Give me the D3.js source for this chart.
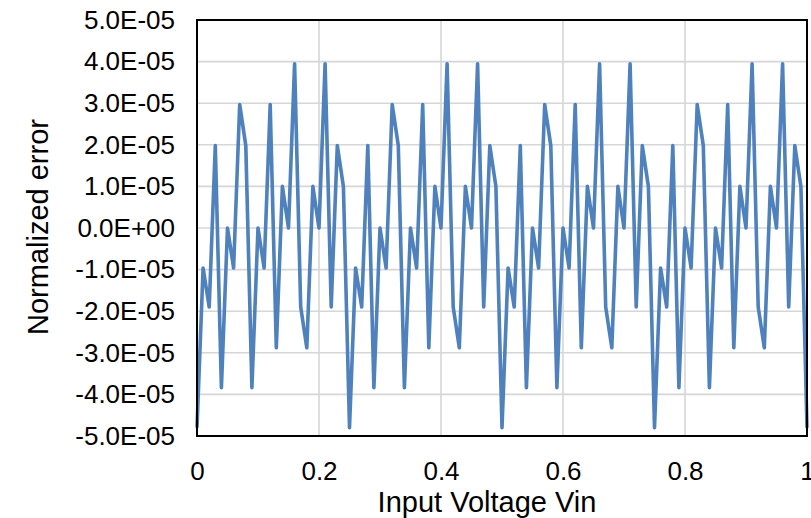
<!DOCTYPE html>
<html>
<head>
<meta charset="utf-8">
<script src="https://cdn.jsdelivr.net/npm/d3@7"></script>
<style>
  body { margin: 0; background: #fff; }
  text { font-family: "Liberation Sans", Arial, sans-serif; fill: #000; }
</style>
</head>
<body>
<svg id="chart" width="811" height="518"></svg>
<script>
const vin = [
  0.00, 0.01, 0.02, 0.03, 0.04, 0.05, 0.06, 0.07, 0.08, 0.09,
  0.10, 0.11, 0.12, 0.13, 0.14, 0.15, 0.16, 0.17, 0.18, 0.19,
  0.20, 0.21, 0.22, 0.23, 0.24, 0.25, 0.26, 0.27, 0.28, 0.29,
  0.30, 0.31, 0.32, 0.33, 0.34, 0.35, 0.36, 0.37, 0.38, 0.39,
  0.40, 0.41, 0.42, 0.43, 0.44, 0.45, 0.46, 0.47, 0.48, 0.49,
  0.50, 0.51, 0.52, 0.53, 0.54, 0.55, 0.56, 0.57, 0.58, 0.59,
  0.60, 0.61, 0.62, 0.63, 0.64, 0.65, 0.66, 0.67, 0.68, 0.69,
  0.70, 0.71, 0.72, 0.73, 0.74, 0.75, 0.76, 0.77, 0.78, 0.79,
  0.80, 0.81, 0.82, 0.83, 0.84, 0.85, 0.86, 0.87, 0.88, 0.89,
  0.90, 0.91, 0.92, 0.93, 0.94, 0.95, 0.96, 0.97, 0.98, 0.99,
  1.00
]

const normError = [
  -4.8e-5, -0.96e-5, -1.9e-5, 1.98e-5, -3.84e-5, 0, -0.96e-5, 2.97e-5, 1.98e-5, -3.84e-5,
  0, -0.96e-5, 2.97e-5, -2.88e-5, 1.0e-5, 0, 3.95e-5, -1.9e-5, -2.88e-5, 1.0e-5,
  0, 3.95e-5, -1.9e-5, 1.98e-5, 1.0e-5,
  -4.8e-5, -0.96e-5, -1.9e-5, 1.98e-5, -3.84e-5, 0, -0.96e-5, 2.97e-5, 1.98e-5, -3.84e-5,
  0, -0.96e-5, 2.97e-5, -2.88e-5, 1.0e-5, 0, 3.95e-5, -1.9e-5, -2.88e-5, 1.0e-5,
  0, 3.95e-5, -1.9e-5, 1.98e-5, 1.0e-5,
  -4.8e-5, -0.96e-5, -1.9e-5, 1.98e-5, -3.84e-5, 0, -0.96e-5, 2.97e-5, 1.98e-5, -3.84e-5,
  0, -0.96e-5, 2.97e-5, -2.88e-5, 1.0e-5, 0, 3.95e-5, -1.9e-5, -2.88e-5, 1.0e-5,
  0, 3.95e-5, -1.9e-5, 1.98e-5, 1.0e-5,
  -4.8e-5, -0.96e-5, -1.9e-5, 1.98e-5, -3.84e-5, 0, -0.96e-5, 2.97e-5, 1.98e-5, -3.84e-5,
  0, -0.96e-5, 2.97e-5, -2.88e-5, 1.0e-5, 0, 3.95e-5, -1.9e-5, -2.88e-5, 1.0e-5,
  0, 3.95e-5, -1.9e-5, 1.98e-5, 1.0e-5,
  -4.8e-5
]

const xTicks = [0, 0.2, 0.4, 0.6, 0.8, 1]
const xTickLabels = ["0", "0.2", "0.4", "0.6", "0.8", "1"]
const yTicks = [-5e-5, -4e-5, -3e-5, -2e-5, -1e-5, 0, 1e-5, 2e-5, 3e-5, 4e-5, 5e-5]
const yTickLabels = ["-5.0E-05", "-4.0E-05", "-3.0E-05", "-2.0E-05", "-1.0E-05", "0.0E+00",
                     "1.0E-05", "2.0E-05", "3.0E-05", "4.0E-05", "5.0E-05"]

const svg = d3.select("#chart")
const plot = { left: 197, right: 807, top: 20, bottom: 436 }

const xScale = d3.scaleLinear()
    .domain([0, 1])
    .range([plot.left, plot.right])

const yScale = d3.scaleLinear()
    .domain([-5e-5, 5e-5])
    .range([plot.bottom, plot.top])

function drawGrid() {
    svg.append("g")
      .selectAll("line")
      .data(yTicks)
      .join("line")
      .attr("x1", plot.left)
      .attr("x2", plot.right)
      .attr("y1", d => yScale(d))
      .attr("y2", d => yScale(d))
      .attr("stroke", "#d6d6d6")
      .attr("stroke-width", 1.6)

    svg.append("g")
      .selectAll("line")
      .data(xTicks)
      .join("line")
      .attr("x1", d => xScale(d))
      .attr("x2", d => xScale(d))
      .attr("y1", plot.top)
      .attr("y2", plot.bottom)
      .attr("stroke", "#d6d6d6")
      .attr("stroke-width", 1.6)
}

function drawAxes() {
    const xAxis = d3.axisBottom(xScale)
        .tickValues(xTicks)
        .tickFormat((d, i) => xTickLabels[i])
        .tickSize(0)
        .tickPadding(0)

    const xg = svg.append("g")
      .attr("transform", `translate(0,${plot.bottom})`)
      .call(xAxis)
    xg.select(".domain").remove()
    xg.selectAll("text")
      .attr("y", 44)
      .attr("dy", null)
      .attr("font-size", "26px")
      .attr("font-family", "Liberation Sans, Arial, sans-serif")
      .attr("fill", "#000")

    const yAxis = d3.axisLeft(yScale)
        .tickValues(yTicks)
        .tickFormat((d, i) => yTickLabels[i])
        .tickSize(0)
        .tickPadding(22)

    const yg = svg.append("g")
      .attr("transform", `translate(${plot.left},0)`)
      .call(yAxis)
    yg.select(".domain").remove()
    yg.selectAll("text")
      .attr("font-size", "26px")
      .attr("font-family", "Liberation Sans, Arial, sans-serif")
      .attr("fill", "#000")

    svg.append("text")
      .attr("x", 487)
      .attr("y", 512)
      .attr("text-anchor", "middle")
      .attr("font-size", "29px")
      .text("Input Voltage Vin")

    svg.append("text")
      .attr("transform", "translate(48,227) rotate(-90)")
      .attr("text-anchor", "middle")
      .attr("font-size", "29px")
      .text("Normalized error")
}

function drawLine() {
    const points = vin.map((v, i) => ({ x: v, y: normError[i] }))

    const line = d3.line()
        .x(d => xScale(d.x))
        .y(d => yScale(d.y))

    svg.append("path")
      .datum(points)
      .attr("d", line)
      .attr("fill", "none")
      .attr("stroke", "#4f81bd")
      .attr("stroke-width", 3.6)
      .attr("stroke-linejoin", "round")
}

function drawFrame() {
    svg.append("rect")
      .attr("x", plot.left)
      .attr("y", plot.top)
      .attr("width", plot.right - plot.left)
      .attr("height", plot.bottom - plot.top)
      .attr("fill", "none")
      .attr("stroke", "#000")
      .attr("stroke-width", 2)
}

drawGrid()
drawLine()
drawFrame()
drawAxes()
</script>
</body>
</html>
